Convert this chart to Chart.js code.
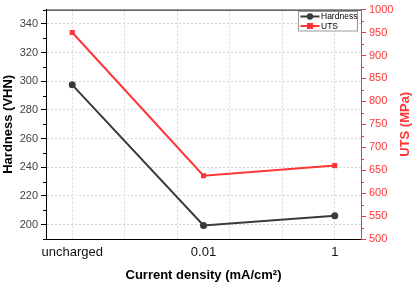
<!DOCTYPE html>
<html><head><meta charset="utf-8">
<script src="https://cdn.jsdelivr.net/npm/chart.js@4.4.1/dist/chart.umd.min.js"></script>
<style>html,body{margin:0;padding:0;background:#fff}#wrap{width:414px;height:283px}</style>
</head><body><div id="wrap"><canvas id="c" width="414" height="283"></canvas></div>
<script>
// ---- data ----
const categories = ['uncharged', '0.01', '1'];
const categoryPos = [0, 1, 2];
const hardness = [297.5, 199.5, 206.3];
const uts = [950, 638, 660];
const hardnessTicks = [200, 220, 240, 260, 280, 300, 320, 340];
const hardnessMinor = [190, 210, 230, 250, 270, 290, 310, 330, 350];
const utsTicks = [500, 550, 600, 650, 700, 750, 800, 850, 900, 950, 1000];
const utsMinor = [525, 575, 625, 675, 725, 775, 825, 875, 925, 975];
const xGrid = [0, 0.4, 0.8, 1.2, 1.6, 2.0];
const seriesNames = ['Hardness', 'UTS'];

const BLACK_SERIES = '#3a3a3a';
const RED = '#ff3535';
const FONT = '"Liberation Sans", Arial, sans-serif';

const extrasPlugin = {
  id: 'extras',
  afterDraw(chart) {
    const ctx = chart.ctx, a = chart.chartArea;
    const yL = chart.scales.y, yR = chart.scales.y2;
    ctx.save();
    // top frame
    ctx.strokeStyle = '#000'; ctx.lineWidth = 1;
    ctx.beginPath(); ctx.moveTo(a.left, a.top + 0.5); ctx.lineTo(a.right, a.top + 0.5); ctx.stroke();
    // minor ticks
    ctx.beginPath();
    hardnessMinor.forEach(v => { const y = Math.round(yL.getPixelForValue(v)) + 0.5; ctx.moveTo(a.left - 3, y); ctx.lineTo(a.left, y); });
    ctx.strokeStyle = '#000'; ctx.stroke();
    ctx.beginPath();
    utsMinor.forEach(v => { const y = Math.round(yR.getPixelForValue(v)) + 0.5; ctx.moveTo(a.right, y); ctx.lineTo(a.right + 3, y); });
    ctx.strokeStyle = RED; ctx.stroke();
    // right title (reads bottom to top)
    ctx.fillStyle = RED;
    ctx.font = 'bold 13px ' + FONT;
    ctx.textAlign = 'center'; ctx.textBaseline = 'middle';
    ctx.translate(405, (a.top + a.bottom) / 2);
    ctx.rotate(-Math.PI / 2);
    ctx.fillText('UTS (MPa)', 0, 0);
    ctx.restore();

    // legend
    ctx.save();
    const lx = 298.5, ly = 11.5, lw = 59, lh = 19.5;
    ctx.fillStyle = '#fff'; ctx.fillRect(lx, ly, lw, lh);
    ctx.strokeStyle = '#999'; ctx.lineWidth = 1; ctx.strokeRect(lx, ly, lw, lh);
    chart.data.datasets.forEach((ds, i) => {
      const y = ly + (i === 0 ? 5 : 14.5);
      ctx.strokeStyle = ds.borderColor; ctx.lineWidth = 2;
      ctx.beginPath(); ctx.moveTo(lx + 2, y); ctx.lineTo(lx + 21, y); ctx.stroke();
      ctx.fillStyle = ds.borderColor;
      if (ds.pointStyle === 'rect') { ctx.fillRect(lx + 11.5 - 3, y - 3, 6, 6); }
      else { ctx.beginPath(); ctx.arc(lx + 11.5, y, 3.2, 0, Math.PI * 2); ctx.fill(); }
      ctx.fillStyle = '#000'; ctx.font = '8.5px ' + FONT; ctx.textAlign = 'left'; ctx.textBaseline = 'middle';
      ctx.fillText(ds.label, lx + 22.5, y + 0.5);
    });
    ctx.restore();
  }
};

new Chart(document.getElementById('c'), {
  type: 'line',
  data: {
    datasets: [
      { label: seriesNames[0], data: categoryPos.map((x, i) => ({ x, y: hardness[i] })), yAxisID: 'y',
        borderColor: BLACK_SERIES, backgroundColor: BLACK_SERIES, borderWidth: 2, pointStyle: 'circle',
        pointRadius: 3.5, pointBorderWidth: 0, tension: 0 },
      { label: seriesNames[1], data: categoryPos.map((x, i) => ({ x, y: uts[i] })), yAxisID: 'y2',
        borderColor: RED, backgroundColor: RED, borderWidth: 2, pointStyle: 'rect',
        pointRadius: 3.6, pointBorderWidth: 0, tension: 0 }
    ]
  },
  options: {
    responsive: false, animation: false, devicePixelRatio: 1,
    layout: { padding: { top: 6, left: 0, right: 0, bottom: 0 } },
    plugins: { legend: { display: false }, tooltip: { enabled: false } },
    scales: {
      x: {
        type: 'linear', min: -0.2, max: 2.2,
        afterBuildTicks: s => { s.ticks = xGrid.concat(categoryPos).filter((v, i, arr) => arr.indexOf(v) === i).sort((a, b) => a - b).map(v => ({ value: v })); },
        afterFit: s => { s.height = 44; },
        grid: { drawTicks: false, color: c => xGrid.includes(c.tick.value) ? '#d6d6d6' : 'rgba(0,0,0,0)', lineWidth: 1 },
        border: { display: true, color: '#000', width: 1, dash: [2, 2] },
        ticks: { padding: 6, color: '#111', font: { family: FONT, size: 13 }, maxRotation: 0, autoSkip: false,
          callback: v => { const k = categoryPos.indexOf(v); return k >= 0 ? categories[k] : ''; } },
        title: { display: true, text: 'Current density (mA/cm²)', color: '#000', font: { family: FONT, size: 13, weight: 'bold' }, padding: { top: 0, bottom: 0 } }
      },
      y: {
        position: 'left', min: 190, max: 350,
        afterBuildTicks: s => { s.ticks = hardnessTicks.map(v => ({ value: v })); },
        afterFit: s => { s.width = 46; },
        grid: { color: '#d6d6d6', tickLength: 5, tickColor: '#000', tickBorderDash: [] },
        border: { display: true, color: '#000', width: 1, dash: [2, 2] },
        ticks: { padding: 3, color: '#444', font: { family: FONT, size: 11 }, callback: v => String(v) },
        title: { display: true, text: 'Hardness (VHN)', color: '#000', font: { family: FONT, size: 13, weight: 'bold' }, padding: { top: 1, bottom: 0 } }
      },
      y2: {
        position: 'right', min: 500, max: 1000,
        afterBuildTicks: s => { s.ticks = utsTicks.map(v => ({ value: v })); },
        afterFit: s => { s.width = 53; },
        grid: { drawOnChartArea: false, tickLength: 5, tickColor: RED },
        border: { display: true, color: RED, width: 1 },
        ticks: { padding: 3, color: RED, font: { family: FONT, size: 11 }, callback: v => String(v) },
        title: { display: false }
      }
    }
  },
  plugins: [extrasPlugin]
});
</script></body></html>
